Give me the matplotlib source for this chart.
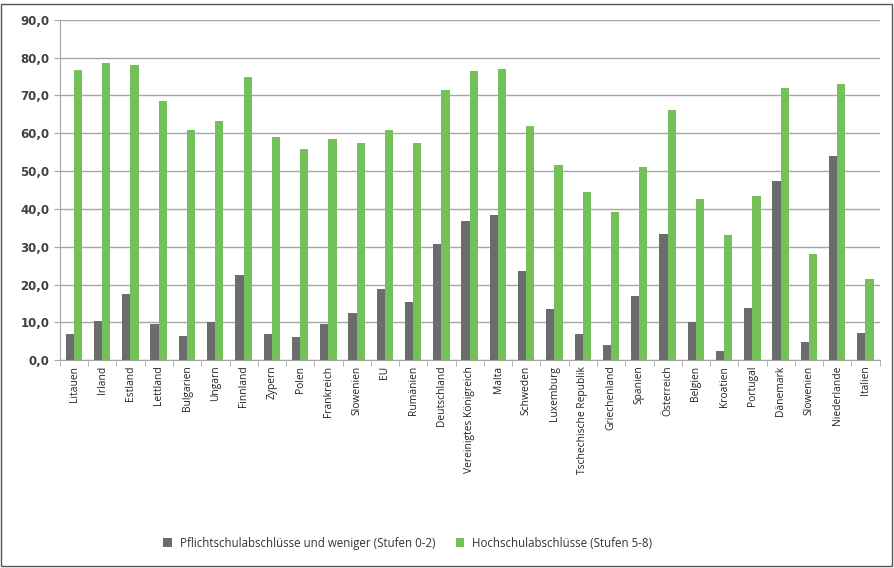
import numpy as np
import matplotlib
matplotlib.use('Agg')
import matplotlib.pyplot as plt
from matplotlib.ticker import FuncFormatter

# data
laender = ['Litauen', 'Irland', 'Estland', 'Lettland', 'Bulgarien', 'Ungarn',
           'Finnland', 'Zypern', 'Polen', 'Frankreich', 'Slowenien', 'EU',
           'Rumänien', 'Deutschland', 'Vereinigtes Königreich', 'Malta',
           'Schweden', 'Luxemburg', 'Tschechische Republik', 'Griechenland',
           'Spanien', 'Österreich', 'Belgien', 'Kroatien', 'Portugal',
           'Dänemark', 'Slowenien', 'Niederlande', 'Italien']
pflicht = [7.0, 10.3, 17.6, 9.5, 6.5, 10.0, 22.6, 6.8, 6.2, 9.5, 12.4, 18.9,
           15.3, 30.6, 36.8, 38.4, 23.7, 13.6, 7.0, 4.1, 17.0, 33.4, 10.0,
           2.3, 13.7, 47.3, 4.8, 54.0, 7.2]
hochschule = [76.7, 78.5, 78.0, 68.6, 60.9, 63.2, 74.9, 59.1, 55.9, 58.5,
              57.4, 61.0, 57.3, 71.4, 76.6, 76.9, 62.0, 51.7, 44.4, 39.3,
              51.1, 66.1, 42.6, 33.2, 43.5, 72.0, 28.2, 73.0, 21.5]
yticks = [0, 10, 20, 30, 40, 50, 60, 70, 80, 90]
legende = ['Pflichtschulabschlüsse und weniger (Stufen 0-2)',
           'Hochschulabschlüsse (Stufen 5-8)']

grau = '#6b6c6e'
gruen = '#74c15a'

fig = plt.figure(figsize=(8.94, 5.68), dpi=100)
ax = fig.add_axes([0.067, 0.366, 0.917, 0.599])

x = np.arange(len(laender))
w = 0.29
b1 = ax.bar(x - 0.15, pflicht, width=w, color=grau, zorder=3, label=legende[0])
b2 = ax.bar(x + 0.14, hochschule, width=w, color=gruen, zorder=3, label=legende[1])

ax.set_xlim(-0.5, len(laender) - 0.5)
ax.set_ylim(0, 90)
ax.set_yticks(yticks)
ax.yaxis.set_major_formatter(FuncFormatter(lambda v, p: ('%.1f' % v).replace('.', ',')))
ax.grid(axis='y', color='#a6a6a6', linewidth=1.0, zorder=0)

# x ticks between groups
ax.set_xticks(x)
ax.set_xticklabels(laender, rotation=90, fontsize=7.4, family='Open Sans', color='#222222')
ax.set_xticks(np.arange(-0.5, len(laender)), minor=True)
ax.tick_params(axis='x', which='major', length=0, pad=4)
ax.tick_params(axis='x', which='minor', length=4, color='#a6a6a6')
ax.tick_params(axis='y', length=4, color='#a6a6a6', labelsize=8.5, labelcolor='#404040')
for lbl in ax.get_yticklabels():
    lbl.set_fontweight('bold')
    lbl.set_family('DejaVu Sans')

for s in ['top', 'right']:
    ax.spines[s].set_visible(False)
ax.spines['left'].set_color('#a6a6a6')
ax.spines['bottom'].set_color('#a6a6a6')

leg = fig.legend(handles=[b1, b2], loc='center', bbox_to_anchor=(0.456, 0.044), ncol=2,
                 frameon=False, handlelength=0.7, handleheight=0.7, handletextpad=0.7,
                 columnspacing=1.8, prop={'family': 'Open Sans', 'size': 8.3})
for t in leg.get_texts():
    t.set_color('#333333')

# outer frame
fig.patches.append(plt.Rectangle((0.001, 0.003), 0.997, 0.99, transform=fig.transFigure,
                                 fill=False, edgecolor='#555555', linewidth=1.0))

fig.savefig('out.png', dpi=100)
